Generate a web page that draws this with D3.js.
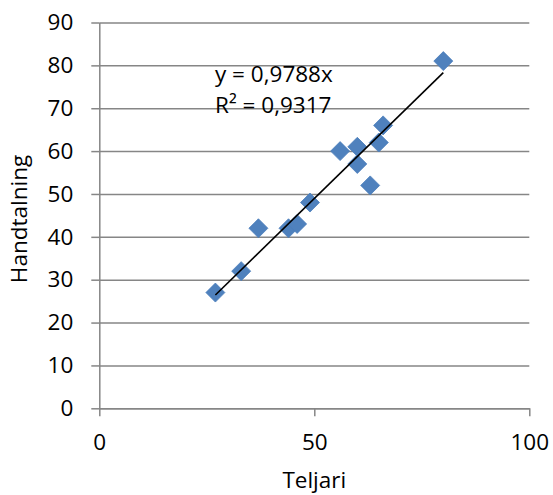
<!DOCTYPE html>
<html>
<head>
<meta charset="utf-8">
<script src="https://cdn.jsdelivr.net/npm/d3@7"></script>
<style>
  body { margin: 0; background: #fff; }
  svg { display: block; font-family: "Open Sans", sans-serif; }
</style>
</head>
<body>
<div id="chart"></div>
<script>
'use strict';

// values
var teljari     = [27, 33, 37, 44, 46, 49, 56, 60, 60, 63, 65, 66, 80];
var handtalning = [27, 32, 42, 42, 43, 48, 60, 61, 57, 52, 62, 66, 81];
var xTicks = [0, 50, 100];
var yTicks = [0, 10, 20, 30, 40, 50, 60, 70, 80, 90];
var slope = 0.9788;
var eqLabel = 'y = 0,9788x';
var r2Label = 'R² = 0,9317';
var xTitle = 'Teljari';
var yTitle = 'Handtalning';

var width = 553,
    height = 495;

var margin = {top: 22.5, right: 23.7, bottom: 86.7, left: 99.3},
    chartWidth = width - margin.left - margin.right,
    chartHeight = height - margin.top - margin.bottom;

var svg = d3.select('#chart').append('svg')
    .attr('width', width)
    .attr('height', height);

var chart = svg.append('g')
    .attr('transform', 'translate(' + margin.left + ',' + margin.top + ')');

var x = d3.scaleLinear().domain([0, 100]).range([0, chartWidth]);
var y = d3.scaleLinear().domain([0, 90]).range([chartHeight, 0]);

var gridColor = '#868686',
    fontSize = 22.5;

// horizontal gridlines
chart.append('g')
    .attr('class', 'grid')
    .call(d3.axisLeft(y).tickValues(yTicks).tickSize(-chartWidth).tickFormat(''))
    .call(function(g) {
      g.select('.domain').remove();
      g.selectAll('line').attr('stroke', gridColor).attr('stroke-width', 1.5);
    });

// y axis
chart.append('g')
    .attr('class', 'yAxis')
    .call(d3.axisLeft(y).tickValues(yTicks).tickSize(8).tickPadding(18).tickSizeOuter(0))
    .call(function(g) {
      g.select('.domain').attr('stroke', gridColor).attr('stroke-width', 1.5);
      g.selectAll('line').attr('stroke', gridColor).attr('stroke-width', 1.5);
      g.selectAll('text').attr('font-size', fontSize).attr('fill', '#000')
        .attr('font-family', '"Open Sans", sans-serif');
    });

// x axis
chart.append('g')
    .attr('class', 'xAxis')
    .attr('transform', 'translate(0,' + chartHeight + ')')
    .call(d3.axisBottom(x).tickValues(xTicks).tickSize(8).tickPadding(18).tickSizeOuter(0))
    .call(function(g) {
      g.select('.domain').attr('stroke', gridColor).attr('stroke-width', 1.5);
      g.selectAll('line').attr('stroke', gridColor).attr('stroke-width', 1.5);
      g.selectAll('text').attr('font-size', fontSize).attr('fill', '#000')
        .attr('font-family', '"Open Sans", sans-serif');
    });

// data points as diamonds
var pts = teljari.map(function(d, i) { return {x: d, y: handtalning[i]}; });

chart.selectAll('.pt')
    .data(pts)
  .enter().append('path')
    .attr('class', 'pt')
    .attr('d', 'M0,-9.5L9.5,0L0,9.5L-9.5,0Z')
    .attr('transform', function(d) { return 'translate(' + x(d.x) + ',' + y(d.y) + ')'; })
    .attr('fill', '#4f81bd')
    .attr('stroke', '#4a7ebb')
    .attr('stroke-width', 0.8);

// linear trend line through origin
var xExt = d3.extent(teljari);
chart.append('line')
    .attr('x1', x(xExt[0])).attr('y1', y(slope * xExt[0]))
    .attr('x2', x(xExt[1])).attr('y2', y(slope * xExt[1]))
    .attr('stroke', '#000')
    .attr('stroke-width', 1.6);

// equation labels
svg.append('text')
    .attr('x', 215).attr('y', 81.7)
    .attr('font-size', fontSize)
    .text(eqLabel);
svg.append('text')
    .attr('x', 215).attr('y', 112.7)
    .attr('font-size', fontSize)
    .text(r2Label);

// axis titles
svg.append('text')
    .attr('x', margin.left + x(50)).attr('y', 488)
    .attr('text-anchor', 'middle')
    .attr('font-size', fontSize)
    .text(xTitle);

svg.append('text')
    .attr('transform', 'translate(27,219) rotate(-90)')
    .attr('text-anchor', 'middle')
    .attr('font-size', fontSize)
    .text(yTitle);
</script>
</body>
</html>
